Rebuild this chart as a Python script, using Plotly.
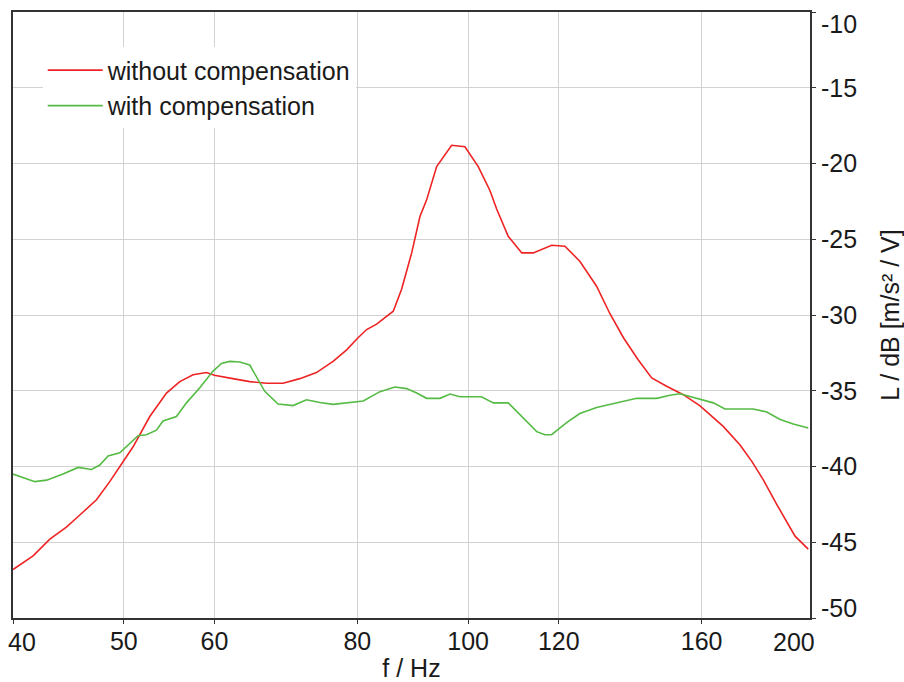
import math
import plotly.graph_objects as go

# ---- data ----
freq_without = [40.0, 41.65, 43.08, 44.54, 45.76, 47.32, 48.60, 50.0, 50.94, 52.68,
                54.48, 55.96, 57.48, 59.05, 60.0, 62.26, 64.42, 66.63, 68.89, 71.25,
                73.68, 76.19, 78.3, 80.0, 81.52, 83.17, 86.0, 87.46, 89.25, 90.75,
                91.98, 93.85, 96.73, 99.35, 102.05, 104.5, 105.9, 108.4, 111.4, 114.0,
                118.3, 121.5, 125.2, 129.5, 133.0, 136.7, 140.8, 144.7, 149.1, 154.2,
                159.5, 167.1, 172.8, 177.0, 181.1, 186.1, 189.9, 193.1, 198.3]
level_without = [-46.8, -45.9, -44.8, -44.0, -43.2, -42.2, -41.0, -39.66, -38.7, -36.7,
                 -35.15, -34.4, -33.94, -33.8, -33.98, -34.2, -34.4, -34.5, -34.5, -34.2,
                 -33.8, -33.06, -32.3, -31.55, -30.96, -30.6, -29.75, -28.3, -25.9, -23.5,
                 -22.4, -20.2, -18.8, -18.9, -20.2, -21.8, -23.0, -24.8, -25.9, -25.9,
                 -25.4, -25.46, -26.45, -28.1, -29.9, -31.5, -32.95, -34.15, -34.7, -35.26,
                 -36.0, -37.35, -38.56, -39.66, -40.87, -42.5, -43.6, -44.6, -45.45]

freq_with = [40.0, 41.8, 42.8, 44.24, 45.6, 46.85, 47.64, 48.44, 49.59, 50.43,
             51.45, 52.33, 53.39, 54.1, 55.58, 56.72, 58.26, 59.84, 60.86, 61.88,
             63.14, 64.42, 65.30, 66.40, 68.20, 70.29, 72.22, 74.18, 76.19, 78.30,
             80.96, 83.73, 86.29, 88.35, 90.15, 91.98, 94.48, 96.40, 98.36, 102.7,
             105.2, 108.4, 111.7, 114.8, 116.7, 118.3, 121.9, 125.2, 129.5, 134.9,
             140.4, 146.2, 150.1, 153.2, 158.4, 163.8, 167.7, 177.5, 182.4, 187.4,
             192.4, 198.3]
level_with = [-40.5, -41.0, -40.9, -40.5, -40.06, -40.2, -39.9, -39.3, -39.1, -38.56,
              -37.97, -37.9, -37.6, -37.0, -36.7, -35.8, -34.8, -33.7, -33.2, -33.06,
              -33.1, -33.3, -34.05, -35.04, -35.88, -35.98, -35.6, -35.78, -35.9, -35.8,
              -35.68, -35.06, -34.75, -34.86, -35.15, -35.5, -35.5, -35.22, -35.4, -35.4,
              -35.8, -35.8, -36.8, -37.7, -37.9, -37.9, -37.1, -36.5, -36.1, -35.8,
              -35.5, -35.5, -35.3, -35.2, -35.5, -35.8, -36.2, -36.2, -36.4, -36.9,
              -37.2, -37.46]

x_ticks = [40, 50, 60, 80, 100, 120, 160, 200]
y_ticks = [-50, -45, -40, -35, -30, -25, -20, -15, -10]
x_range = [40, 199]
y_range = [-50, -10]

names = ["without compensation", "with compensation"]
colors = ["#ee2424", "#55bb44"]

FONT = "Arial, Liberation Sans, sans-serif"
TXT = "#1a1a1a"
FS = 25

fig = go.Figure()
fig.add_trace(go.Scatter(x=freq_without, y=level_without, mode="lines", name=names[0],
                         line=dict(color=colors[0], width=1.6)))
fig.add_trace(go.Scatter(x=freq_with, y=level_with, mode="lines", name=names[1],
                         line=dict(color=colors[1], width=1.6)))

inner_x = [v for v in x_ticks if x_range[0] < v < x_range[1]]
inner_y = y_ticks[1:-1]

fig.update_layout(
    width=904, height=682,
    margin=dict(l=13, r=94, t=12, b=64, autoexpand=False),
    paper_bgcolor="white", plot_bgcolor="white",
    font=dict(family=FONT, size=FS, color=TXT),
    showlegend=True,
    legend=dict(x=0.0373, y=0.9416, xanchor="left", yanchor="top",
                bgcolor="white", borderwidth=0, itemwidth=55,
                font=dict(family=FONT, size=FS, color=TXT)),
    xaxis=dict(type="log", range=[math.log10(x_range[0]), math.log10(x_range[1])],
               tickvals=x_ticks, ticktext=[str(v) if v in inner_x else "" for v in x_ticks],
               showgrid=True, gridcolor="#d2d2d2", gridwidth=1,
               showline=True, linecolor="#333333", linewidth=2, mirror=True,
               ticks="outside", ticklen=4, tickcolor="#333333", ticklabelstandoff=-4,
               tickfont=dict(size=FS), zeroline=False, automargin=False,
               title=dict(text="f / Hz", font=dict(size=FS), standoff=18)),
    yaxis=dict(side="right", range=y_range,
               tickvals=y_ticks, ticktext=[str(v) if v in inner_y else "" for v in y_ticks],
               showgrid=True, gridcolor="#d2d2d2", gridwidth=1,
               showline=True, linecolor="#333333", linewidth=2, mirror=True,
               ticks="outside", ticklen=4, tickcolor="#333333",
               tickfont=dict(size=FS), zeroline=False, automargin=False,
               title=dict(text="L / dB [m/s² / V]", font=dict(size=FS), standoff=25)),
)

# edge tick labels, aligned inward like the reference
fig.add_annotation(x=math.log10(x_ticks[0]), xref="x", y=0, yref="paper",
                   text=str(x_ticks[0]), showarrow=False, xanchor="left", yanchor="middle",
                   xshift=-7, yshift=-24, font=dict(size=FS, color=TXT))
fig.add_annotation(x=1, xref="paper", y=0, yref="paper",
                   text=str(x_ticks[-1]), showarrow=False, xanchor="right", yanchor="middle",
                   xshift=7, yshift=-24, font=dict(size=FS, color=TXT))
fig.add_annotation(x=1, xref="paper", y=y_ticks[-1], yref="y",
                   text=str(y_ticks[-1]), showarrow=False, xanchor="left", yanchor="middle",
                   xshift=9, yshift=-12, font=dict(size=FS, color=TXT))
fig.add_annotation(x=1, xref="paper", y=y_ticks[0], yref="y",
                   text=str(y_ticks[0]), showarrow=False, xanchor="left", yanchor="middle",
                   xshift=9, yshift=10, font=dict(size=FS, color=TXT))

fig.write_html("out.html")
